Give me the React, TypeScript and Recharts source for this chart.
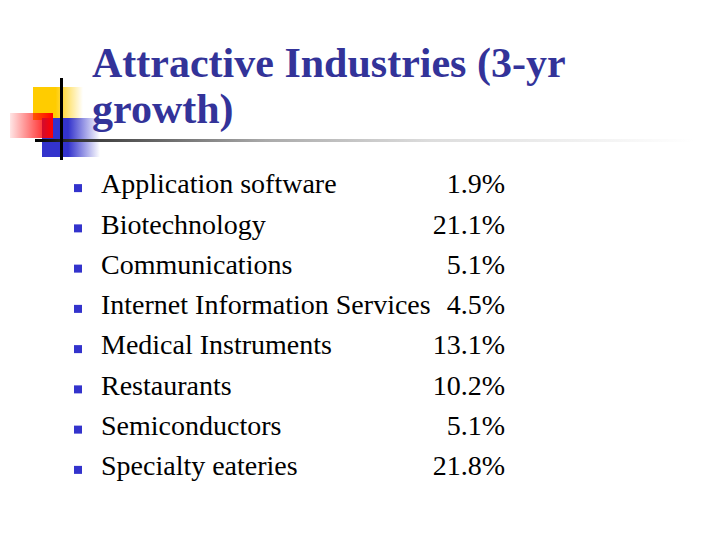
import React from 'react';
import { BarChart, Bar, XAxis, YAxis } from 'recharts';

const industries = [
  'Application software',
  'Biotechnology',
  'Communications',
  'Internet Information Services',
  'Medical Instruments',
  'Restaurants',
  'Semiconductors',
  'Specialty eateries',
];

const growth = [1.9, 21.1, 5.1, 4.5, 13.1, 10.2, 5.1, 21.8];

const titleLines = ['Attractive Industries (3-yr', 'growth)'];

const data = industries.map((name, i) => ({ name, growth: growth[i] }));

const SERIF = '"Liberation Serif", "Times New Roman", serif';

const NameTick = (props: any) => {
  const { x, y, payload } = props;
  return (
    <g>
      <rect x={x - 27} y={y} width={8} height={8} fill="#3333cc" />
      <text x={x} y={y} dy="0.33em" textAnchor="start" fontFamily={SERIF} fontSize={28} fill="#000">
        {payload.value}
      </text>
    </g>
  );
};

const ValueTick = (props: any) => {
  const { x, y, payload } = props;
  const v = growth[industries.indexOf(payload.value)];
  return (
    <text x={x} y={y} dy="0.33em" textAnchor="end" fontFamily={SERIF} fontSize={28} fill="#000">
      {`${v.toFixed(1)}%`}
    </text>
  );
};

const Decoration = () => (
  <svg
    width={720}
    height={540}
    style={{ position: 'absolute', left: 0, top: 0, pointerEvents: 'none' }}
  >
    <defs>
      <linearGradient id="yel" x1="0" x2="1" y1="0" y2="0">
        <stop offset="0" stopColor="#ffcc00" />
        <stop offset="0.45" stopColor="#ffcc00" />
        <stop offset="1" stopColor="#ffcc00" stopOpacity="0" />
      </linearGradient>
      <linearGradient id="blu" x1="0" x2="1" y1="0" y2="0">
        <stop offset="0" stopColor="#3333cc" />
        <stop offset="0.45" stopColor="#3333cc" />
        <stop offset="1" stopColor="#3333cc" stopOpacity="0" />
      </linearGradient>
      <linearGradient id="red" x1="0" x2="1" y1="0" y2="0">
        <stop offset="0" stopColor="#ff0000" stopOpacity="0.1" />
        <stop offset="1" stopColor="#ff0000" stopOpacity="1" />
      </linearGradient>
      <linearGradient id="rule" x1="0" x2="1" y1="0" y2="0">
        <stop offset="0" stopColor="#000" />
        <stop offset="0.06" stopColor="#333" />
        <stop offset="0.35" stopColor="#aaa" />
        <stop offset="0.6" stopColor="#ddd" />
        <stop offset="1" stopColor="#fff" />
      </linearGradient>
    </defs>
    <rect x={33} y={87} width={50} height={33} fill="url(#yel)" />
    <rect x={42} y={118} width={58} height={39} fill="url(#blu)" />
    <rect x={10} y={113} width={43} height={25} fill="url(#red)" />
    <rect x={35} y={139} width={660} height={3} fill="url(#rule)" />
    <rect x={60} y={78} width={3} height={82} fill="#000" />
    {titleLines.map((line, i) => (
      <text
        key={line}
        x={92}
        y={77 + i * 46}
        fontFamily={SERIF}
        fontWeight="bold"
        fontSize={42}
        fill="#333399"
      >
        {line}
      </text>
    ))}
  </svg>
);

export default function App() {
  return (
    <div style={{ position: 'absolute', left: 0, top: 0, width: 720, height: 540, background: '#fff' }}>
      <BarChart
        width={720}
        height={540}
        data={data}
        layout="vertical"
        margin={{ top: 164, right: 214, bottom: 54, left: 0 }}
      >
        <XAxis type="number" domain={[0, 25]} hide />
        <YAxis
          yAxisId="names"
          type="category"
          dataKey="name"
          width={101}
          axisLine={false}
          tickLine={false}
          tickSize={0}
          tickMargin={0}
          tick={<NameTick />}
          interval={0}
        />
        <YAxis
          yAxisId="values"
          orientation="right"
          type="category"
          dataKey="name"
          width={1}
          axisLine={false}
          tickLine={false}
          tickSize={0}
          tickMargin={0}
          tick={<ValueTick />}
          interval={0}
        />
        <Bar yAxisId="names" dataKey="growth" fill="#3333cc" fillOpacity={0} isAnimationActive={false} />
      </BarChart>
      <Decoration />
    </div>
  );
}
